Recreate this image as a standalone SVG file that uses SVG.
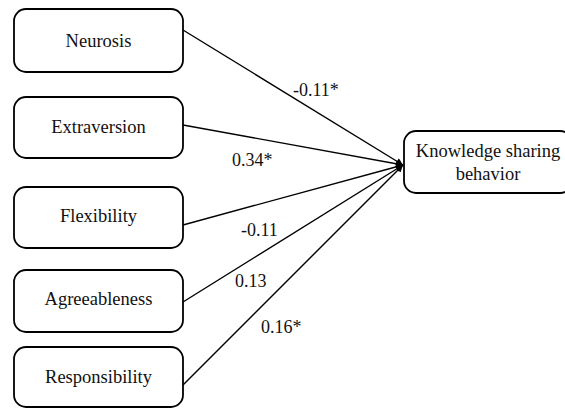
<svg xmlns="http://www.w3.org/2000/svg" width="565" height="409" viewBox="0 0 565 409">
<style>
.box{fill:#fff;stroke:#000;stroke-width:1.8}
.t{font-size:18.5px;fill:#111;text-anchor:middle}
.lbl{font-size:18px;fill:#111}
.edge{stroke:#000;stroke-width:1.4;fill:none;marker-end:url(#ah)}
</style>
<defs>
<marker id="ah" viewBox="0 0 10 10" refX="10" refY="5" markerWidth="9" markerHeight="7" markerUnits="userSpaceOnUse" orient="auto">
<path d="M0,0 L10,5 L0,10 z" fill="#000"/>
</marker>
</defs>
<rect width="565" height="409" fill="#fff"/>
<g font-family="Liberation Serif, DejaVu Serif, serif">
<g id="connectors">
<line class="edge" x1="183" y1="30" x2="403" y2="165"/>
<line class="edge" x1="183" y1="125" x2="403" y2="165"/>
<line class="edge" x1="183" y1="225" x2="403" y2="165"/>
<line class="edge" x1="183" y1="302" x2="403" y2="165"/>
<line class="edge" x1="183" y1="385" x2="403" y2="165"/>
<text class="lbl" x="293" y="96">-0.11*</text>
<text class="lbl" x="232" y="166">0.34*</text>
<text class="lbl" x="241" y="236">-0.11</text>
<text class="lbl" x="235" y="287">0.13</text>
<text class="lbl" x="261" y="333">0.16*</text>
</g>
<g id="neurosis">
<rect class="box" x="14" y="9" width="169" height="63" rx="12"/>
<text class="t" x="98.5" y="47">Neurosis</text>
</g>
<g id="extraversion">
<rect class="box" x="14" y="97" width="169" height="61" rx="12"/>
<text class="t" x="98.5" y="133">Extraversion</text>
</g>
<g id="flexibility">
<rect class="box" x="14" y="187" width="169" height="61" rx="12"/>
<text class="t" x="98.5" y="222">Flexibility</text>
</g>
<g id="agreeableness">
<rect class="box" x="14" y="270" width="169" height="62" rx="12"/>
<text class="t" x="98.5" y="305">Agreeableness</text>
</g>
<g id="responsibility">
<rect class="box" x="14" y="347" width="169" height="60" rx="12"/>
<text class="t" x="98.5" y="383">Responsibility</text>
</g>
<g id="knowledge">
<rect class="box" x="404" y="131" width="168" height="62" rx="12"/>
<text class="t" x="488" y="157">Knowledge sharing</text>
<text class="t" x="488" y="180">behavior</text>
</g>
</g>
</svg>
